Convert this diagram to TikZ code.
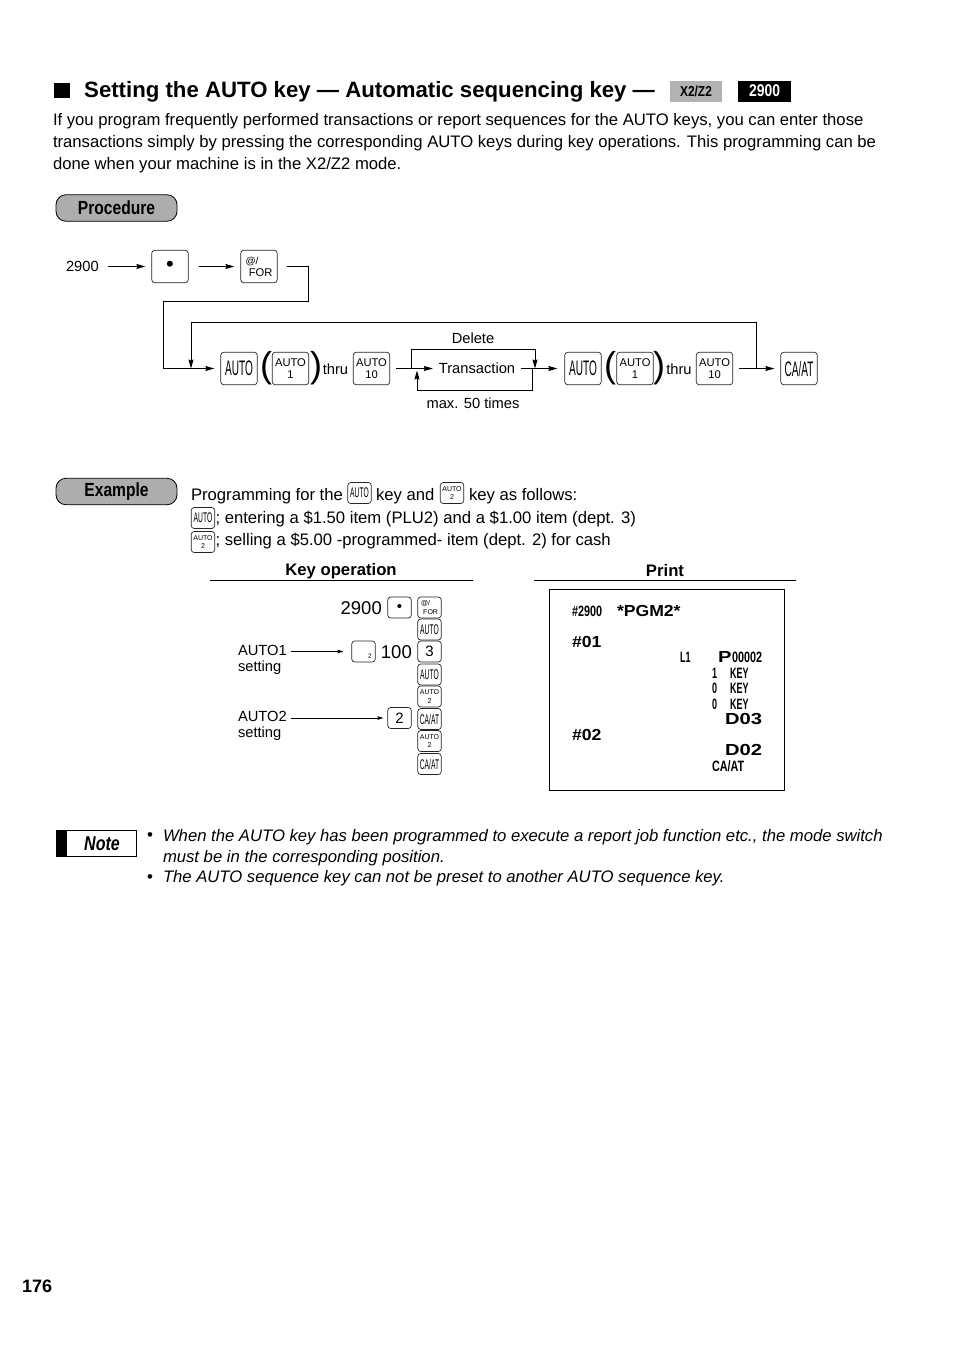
\documentclass[tikz,border=0pt]{standalone}
\usepackage{fontspec}
\usetikzlibrary{arrows.meta,calc}
\setmainfont{Liberation Sans}
\newfontfamily\condf[FakeStretch=0.48]{Liberation Sans}
\newfontfamily\condb[FakeStretch=0.82]{Liberation Sans Bold}
\newfontfamily\condbi[FakeStretch=0.8]{Liberation Sans Bold Italic}
\newfontfamily\tallf[FakeStretch=0.6]{Liberation Sans Bold}
\newfontfamily\midf[FakeStretch=0.72]{Liberation Sans Bold}
\newfontfamily\widef[FakeStretch=1.1]{Liberation Sans Bold}
\newfontfamily\widerf[FakeStretch=1.26]{Liberation Sans Bold}
\newcommand{\fsz}[2]{\fontsize{#1}{#2}\selectfont}
\tikzset{
  x=1pt,y=-1pt,
  line/.style={draw=black,line width=0.9pt},
  arr/.style={line,-{Stealth[length=9pt,width=5pt,inset=1pt]}},
  tinyarr/.style={draw=black,line width=0.6pt,-{Stealth[length=6pt,width=3.6pt,inset=1pt]}},
  txt/.style={inner sep=0pt,outer sep=0pt,font=\fsz{16.67}{22}},
  lbl/.style={inner sep=0pt,outer sep=0pt,font=\fsz{14.7}{16}},
  key/.style={draw=black!85,line width=0.7pt,rounded corners=3pt,inner sep=0pt,fill=white,align=center},
  bigkey/.style={key,minimum width=36.5pt,minimum height=32.5pt},
  smallkey/.style={key,minimum width=23.5pt,minimum height=21pt},
  bigauto/.style={font=\condf\fsz{21}{21}},
  bignum/.style={font=\fsz{11.2}{12}},
  smauto/.style={font=\condf\fsz{14}{14}},
  smnum/.style={font=\fsz{7}{8.5}},
  pill/.style={draw=black,line width=0.8pt,fill=black!32,rounded corners=10pt,minimum width=121pt,minimum height=26.5pt,inner sep=0pt,font=\condb\fsz{19}{19}},
  prt/.style={inner sep=0pt,outer sep=0pt,anchor=west,font=\tallf\fsz{15}{15}},
  prm/.style={inner sep=0pt,outer sep=0pt,anchor=west,font=\midf\fsz{15}{15}},
  prw/.style={inner sep=0pt,outer sep=0pt,anchor=west,font=\widef\fsz{16}{16}},
  prd/.style={inner sep=0pt,outer sep=0pt,anchor=west,font=\widerf\fsz{16}{16}},
}
\begin{document}
\begin{tikzpicture}
\useasboundingbox[fill=white] (0,0) rectangle (954,1349);
% heading
\fill[black] (54,83) rectangle (70,98);
\node[inner sep=0pt,anchor=west,font=\bfseries\fsz{22.2}{24}] (title) at (84,92) {Setting the AUTO key — Automatic sequencing key —};
\node[fill=black!30,minimum width=52pt,minimum height=21pt,inner sep=0pt,font=\condb\fsz{14.5}{14}] (modeA) at (696,91) {X2/Z2};
\node[fill=black,text=white,minimum width=53pt,minimum height=21pt,inner sep=0pt,font=\condb\fsz{17}{16}] (modeB) at (764.5,91) {2900};
\node[txt,anchor=west,align=left] (intro) at (53,143.5) {If you program frequently performed transactions or report sequences for the AUTO keys, you can enter those\\transactions simply by pressing the corresponding AUTO keys during key operations. This programming can be\\done when your machine is in the X2/Z2 mode.};
% procedure
\node[pill] (proc) at (116.5,208) {\raisebox{-0.5pt}{Procedure}};
\node[lbl,anchor=west] (n2900) at (66,266.5) {2900};
\node[bigkey,font=\fsz{22}{22}] (dot) at (170,266.5) {\raisebox{-2pt}{•}};
\node[bigkey,bignum] (for) at (259,266.5) {\makebox[27pt][l]{\fsz{10}{12}@/}\\\makebox[27pt][r]{FOR}};
\node[bigkey,bigauto] (a1) at (239,368.5) {AUTO};
\node[lbl,font=\fsz{36}{36}] (po1) at (266,368) {(};
\node[bigkey,bignum] (a2) at (290.5,368.5) {AUTO\\1};
\node[lbl,font=\fsz{36}{36}] (pc1) at (316,368) {)};
\node[lbl] (th1) at (335.5,369) {thru};
\node[bigkey,bignum] (a3) at (371.5,368.5) {AUTO\\10};
\node[lbl] (tr) at (477,368.5) {Transaction};
\node[lbl] (del) at (473,338) {Delete};
\node[lbl] (max) at (473,403) {max. 50 times};
\node[bigkey,bigauto] (b1) at (583,368.5) {AUTO};
\node[lbl,font=\fsz{36}{36}] (po2) at (610,368) {(};
\node[bigkey,bignum] (b2) at (635,368.5) {AUTO\\1};
\node[lbl,font=\fsz{36}{36}] (pc2) at (659,368) {)};
\node[lbl] (th2) at (679,369) {thru};
\node[bigkey,bignum] (b3) at (714.5,368.5) {AUTO\\10};
\node[bigkey,bigauto] (ca) at (799,368.5) {CA/AT};
\draw[arr] ([xshift=9pt]n2900.east) -- ([xshift=-6pt]dot.west);
\draw[arr] ([xshift=10pt]dot.east) -- ([xshift=-6pt]for.west);
\coordinate (j1) at (191,368.5);
\coordinate (j2) at (756,368.5);
\coordinate (d1) at (411.5,368.5);
\coordinate (d2) at (535,368.5);
\coordinate (m1) at (417,370.5);
\coordinate (m2) at (532,368.5);
\draw[arr] ([xshift=9pt]for.east) -| (308,301) -| (163,368.5) -- ([xshift=-6pt]a1.west);
\draw[arr] (j2) |- (191,322) -- (j1);
\draw[arr] ([xshift=6pt]a3.east) -- ([xshift=-6pt]tr.west);
\draw[line] (d1) |- (535,349);
\draw[arr] (535,349) -- (d2);
\draw[arr] (m2) |- (417,390) -- (m1);
\draw[arr] ([xshift=6pt]tr.east) -- ([xshift=-7pt]b1.west);
\draw[arr] ([xshift=6pt]b3.east) -- ([xshift=-6pt]ca.west);
% example
\node[pill] (ex) at (116.5,491.5) {\raisebox{-1pt}{Example}};
\node[txt,anchor=west] (e1) at (191,496.5) {Programming for the};
\node[smallkey,smauto] (e2) at (359.5,493) {AUTO};
\node[txt,anchor=west] (e3) at (376,496.5) {key and};
\node[smallkey,smnum] (e4) at (452,493) {AUTO\\2};
\node[txt,anchor=west] (e5) at (469,496.5) {key as follows:};
\node[smallkey,smauto] (e6) at (203,518) {AUTO};
\node[txt,anchor=west] (e7) at (215.5,519) {; entering a \$1.50 item (PLU2) and a \$1.00 item (dept. 3)};
\node[smallkey,smnum] (e8) at (203,542) {AUTO\\2};
\node[txt,anchor=west] (e9) at (215.5,541) {; selling a \$5.00 -programmed- item (dept. 2) for cash};
% key operation
\node[inner sep=0pt,font=\bfseries\fsz{16.7}{16}] (ko) at (341,571) {Key operation};
\node[inner sep=0pt,font=\bfseries\fsz{16.7}{16}] (pr) at (665,571) {Print};
\draw[line width=0.8pt] (210,580.5) -- (473,580.5);
\draw[line width=0.8pt] (534,580.5) -- (796,580.5);
\node[inner sep=0pt,anchor=east,font=\fsz{18.5}{18}] (k2900) at (382,608) {2900};
\node[smallkey,font=\fsz{15}{15}] (kdot) at (399.5,607.5) {\raisebox{-1.5pt}{•}};
\node[smallkey,smnum] (kfor) at (429.5,607.5) {\makebox[17pt][l]{@/}\\\makebox[17pt][r]{FOR}};
\node[smallkey,smauto] (ka1) at (429.5,629.5) {AUTO};
\node[smallkey] (kblank) at (363.5,651.5) {};
\node[inner sep=0pt,font=\fsz{6.5}{6}] (kbl) at (370,656) {2};
\node[inner sep=0pt,anchor=east,font=\fsz{18.5}{18}] (k100) at (412,652.5) {100};
\node[smallkey,font=\fsz{15}{16}] (k3) at (429.5,651.5) {3};
\node[smallkey,smauto] (ka2) at (429.5,674.5) {AUTO};
\node[smallkey,smnum] (ka3) at (429.5,696.5) {AUTO\\2};
\node[smallkey,font=\fsz{15}{16}] (k2) at (399.5,718) {2};
\node[smallkey,smauto] (kc1) at (429.5,719) {CA/AT};
\node[smallkey,smnum] (ka4) at (429.5,741) {AUTO\\2};
\node[smallkey,smauto] (kc2) at (429.5,764) {CA/AT};
\node[lbl,anchor=west,align=left] (s1) at (238,659.5) {AUTO1\\setting};
\node[lbl,anchor=west,align=left] (s2) at (238,726) {AUTO2\\setting};
\coordinate (s1a) at (291,651.5);
\coordinate (s2a) at (291,718);
\draw[tinyarr] (s1a) -- ([xshift=-8pt]kblank.west);
\draw[tinyarr] (s2a) -- ([xshift=-4pt]k2.west);
% print
\node[draw=black,line width=0.9pt,minimum width=235pt,minimum height=201pt,inner sep=0pt] (pbox) at (667,689.5) {};
\node[prm] (p1) at (572,611) {\#2900};
\node[prw] (p2) at (617,611) {*PGM2*};
\node[prw] (p3) at (572,642) {\#01};
\node[prt] (p4) at (680,657) {L1};
\node[prd] (p5) at (718,657) {P};
\node[prm] (p6) at (732,657) {00002};
\node[prt] (p7) at (712,673) {1};
\node[prt] (p8) at (730,673) {KEY};
\node[prt] (p9) at (712,688) {0};
\node[prt] (p10) at (730,688) {KEY};
\node[prt] (p11) at (712,704) {0};
\node[prt] (p12) at (730,704) {KEY};
\node[prd] (p13) at (725,719) {D03};
\node[prw] (p14) at (572,735) {\#02};
\node[prd] (p15) at (725,750) {D02};
\node[prm] (p16) at (712,766) {CA/AT};
% note
\node[draw=black,line width=0.8pt,minimum width=80pt,minimum height=26pt,inner sep=0pt] (nb) at (96,843) {};
\fill[black] (56,830) rectangle (67,856);
\node[inner sep=0pt,font=\condbi\fsz{20}{20}] (nt) at (102,843.5) {Note};
\node[inner sep=0pt,font=\fsz{17}{21}] (bu1) at (150,837) {•};
\node[inner sep=0pt,font=\fsz{17}{21}] (bu2) at (150,878.5) {•};
\node[txt,font=\itshape\fsz{16.67}{21},anchor=west,align=left] (n1) at (163,847.5) {When the AUTO key has been programmed to execute a report job function etc., the mode switch\\must be in the corresponding position.};
\node[txt,font=\itshape\fsz{16.67}{21},anchor=west] (n2) at (163,878) {The AUTO sequence key can not be preset to another AUTO sequence key.};
\node[inner sep=0pt,anchor=west,font=\bfseries\fsz{18}{18}] (pg) at (22,1286) {176};
\end{tikzpicture}
\end{document}
